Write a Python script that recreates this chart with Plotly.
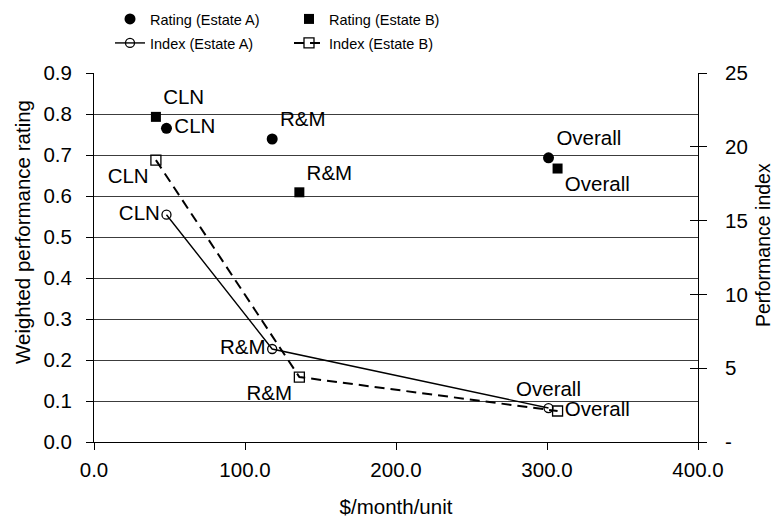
import plotly.graph_objects as go

# ---- data ----
categories = ["CLN", "R&M", "Overall"]
cost_a = [48, 118, 301]
cost_b = [41, 136, 307]
rating_a = [0.765, 0.739, 0.693]
rating_b = [0.793, 0.609, 0.667]
index_a = [15.4, 6.3, 2.3]
index_b = [19.1, 4.4, 2.1]

x_ticks = [0, 100, 200, 300, 400]
x_tick_text = ["0.0", "100.0", "200.0", "300.0", "400.0"]
y_ticks = [0, 0.1, 0.2, 0.3, 0.4, 0.5, 0.6, 0.7, 0.8, 0.9]
y2_ticks = [0, 5, 10, 15, 20, 25]
y2_tick_text = ["-", "5", "10", "15", "20", "25"]

FONT = "Liberation Sans, Arial, sans-serif"
BLACK = "#000000"
FS = 20.5
W, H = 778, 527
L, R, T, B = 94, 80, 73, 85
PW, PH = W - L - R, H - T - B

fig = go.Figure()

fig.add_trace(go.Scatter(
    x=cost_a, y=rating_a, mode="markers+text", name="Rating (Estate A)",
    text=categories, textposition=["middle right", "top right", "top right"],
    marker=dict(symbol="circle", size=11, color=BLACK),
    textfont=dict(family=FONT, size=FS, color=BLACK),
    legend="legend", yaxis="y",
))
fig.add_trace(go.Scatter(
    x=cost_b, y=rating_b, mode="markers+text", name="Rating (Estate B)",
    text=categories, textposition=["top right", "top right", "bottom right"],
    marker=dict(symbol="square", size=10, color=BLACK),
    textfont=dict(family=FONT, size=FS, color=BLACK),
    legend="legend", yaxis="y",
))
fig.add_trace(go.Scatter(
    x=cost_a, y=index_a, mode="lines+markers+text", name="Index (Estate A)",
    text=categories, textposition=["middle left", "middle left", "top center"],
    line=dict(color=BLACK, width=1.4),
    marker=dict(symbol="circle-open", size=9, color=BLACK, line=dict(width=1.3)),
    textfont=dict(family=FONT, size=FS, color=BLACK),
    legend="legend2", yaxis="y2",
))
fig.add_trace(go.Scatter(
    x=cost_b, y=index_b, mode="lines+markers+text", name="Index (Estate B)",
    text=categories, textposition=["bottom left", "bottom left", "middle right"],
    line=dict(color=BLACK, width=2, dash="10px,6px"),
    marker=dict(symbol="square-open", size=10, color=BLACK, line=dict(width=1.3)),
    textfont=dict(family=FONT, size=FS, color=BLACK),
    legend="legend2", yaxis="y2",
))
# invisible trace carrying the inner tick marks of the right axis
fig.add_trace(go.Scatter(
    x=cost_a, y=index_a, mode="markers", marker=dict(opacity=0),
    showlegend=False, hoverinfo="skip", yaxis="y3",
))

fig.update_layout(
    width=W, height=H,
    margin=dict(l=L, r=R, t=T, b=B, autoexpand=False),
    paper_bgcolor="white", plot_bgcolor="white",
    font=dict(family=FONT, size=FS, color=BLACK),
    showlegend=True,
    xaxis=dict(
        range=[0, 400], tickvals=x_ticks, ticktext=x_tick_text,
        showgrid=False, zeroline=False,
        showline=True, linecolor=BLACK, linewidth=1,
        ticks="outside", ticklen=7, tickcolor=BLACK, ticklabelstandoff=2,
        title=dict(text="$/month/unit", font=dict(size=FS), standoff=20),
    ),
    yaxis=dict(
        range=[0, 0.9], tickvals=y_ticks, tickformat=".1f",
        showgrid=True, gridcolor="#3c3c3c", gridwidth=1, zeroline=False,
        showline=True, linecolor=BLACK, linewidth=1,
        ticks="outside", ticklen=7, tickcolor=BLACK, ticklabelstandoff=10,
    ),
    yaxis2=dict(
        range=[0, 25], tickvals=y2_ticks, ticktext=y2_tick_text,
        overlaying="y", side="right", anchor="x",
        showgrid=False, zeroline=False,
        showline=True, linecolor=BLACK, linewidth=1,
        ticks="outside", ticklen=8, tickcolor=BLACK, ticklabelstandoff=14,
    ),
    yaxis3=dict(
        range=[0, 25], tickvals=y2_ticks,
        overlaying="y", side="right", anchor="x",
        showgrid=False, zeroline=False, showline=False,
        ticks="inside", ticklen=8, tickcolor=BLACK, showticklabels=False,
    ),
    legend=dict(
        orientation="h", xref="container", yref="container",
        x=110 / W, y=1 - 3 / H, xanchor="left", yanchor="top",
        entrywidth=134, entrywidthmode="pixels",
        font=dict(family=FONT, size=14.5), bgcolor="rgba(0,0,0,0)", tracegroupgap=0,
    ),
    legend2=dict(
        orientation="h", xref="container", yref="container",
        x=110 / W, y=1 - 27 / H, xanchor="left", yanchor="top",
        entrywidth=134, entrywidthmode="pixels",
        font=dict(family=FONT, size=14.5), bgcolor="rgba(0,0,0,0)", tracegroupgap=0,
    ),
    annotations=[
        dict(text="Weighted performance rating", textangle=-90,
             xref="paper", yref="paper",
             x=(22 - L) / PW, y=(H - B - 232) / PH,
             xanchor="center", yanchor="middle", showarrow=False,
             font=dict(family=FONT, size=20.5, color=BLACK)),
        dict(text="Performance index", textangle=-90,
             xref="paper", yref="paper",
             x=(763 - L) / PW, y=(H - B - 245) / PH,
             xanchor="center", yanchor="middle", showarrow=False,
             font=dict(family=FONT, size=19.5, color=BLACK)),
    ],
)

fig.write_html("out.html",
               config={"displayModeBar": False},
               post_script="document.body.style.margin='0';document.body.style.padding='0';")
